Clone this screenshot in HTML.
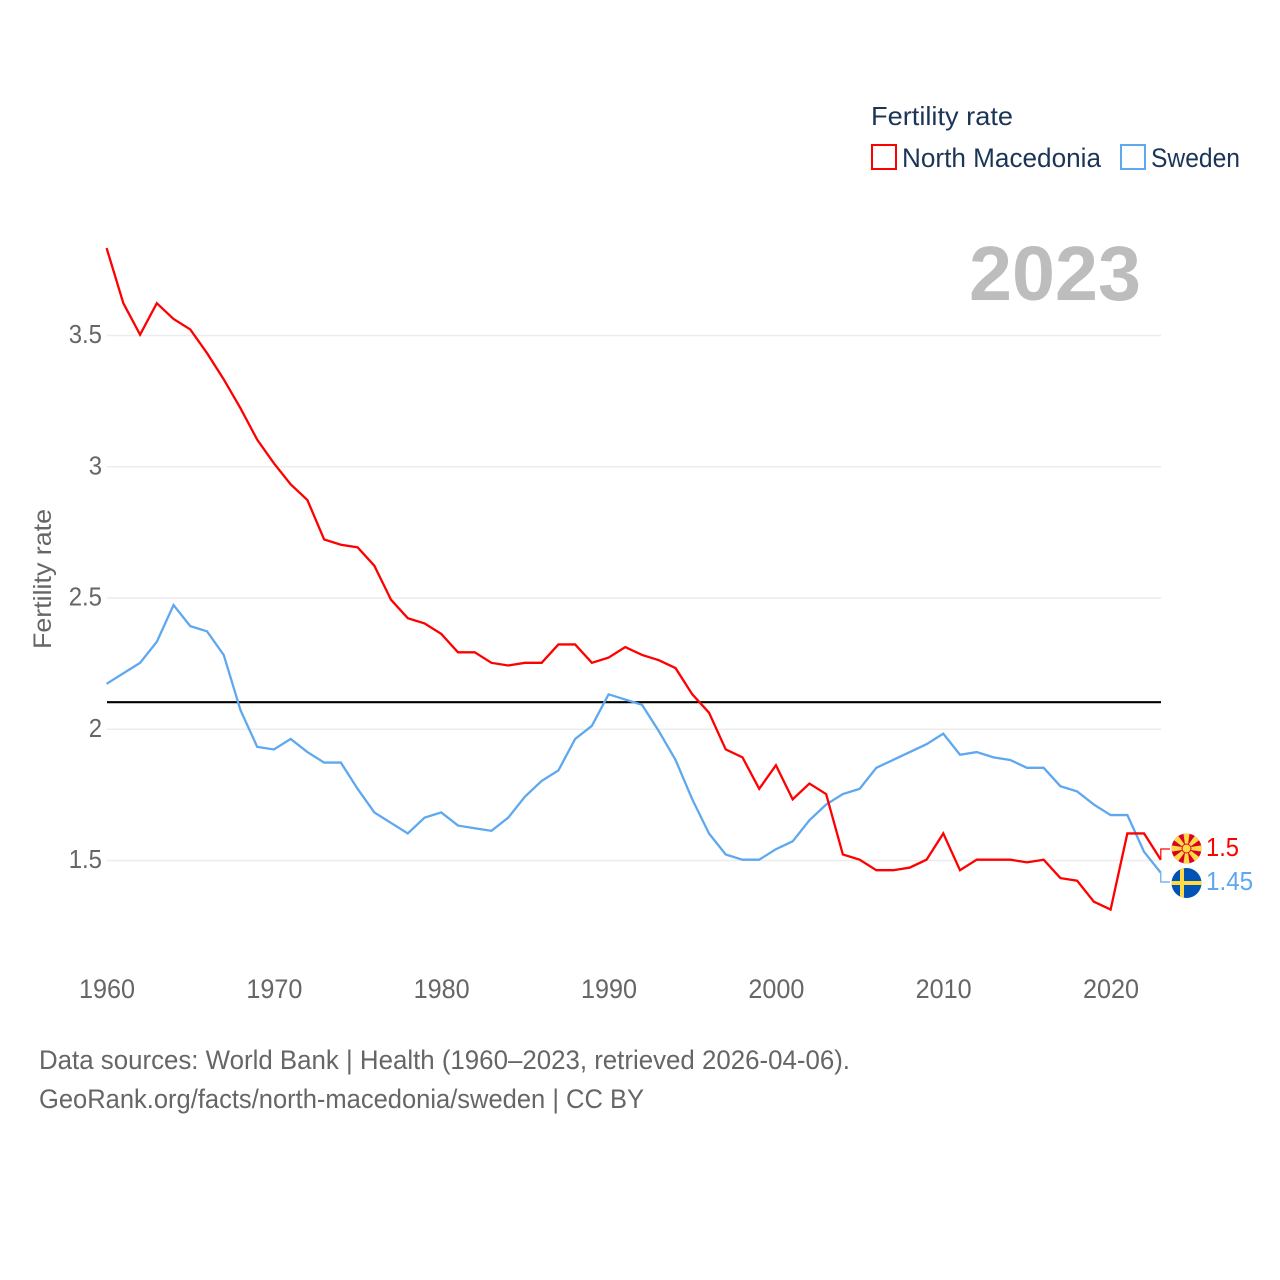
<!DOCTYPE html>
<html lang="en">
<head>
<meta charset="utf-8">
<title>Fertility rate: North Macedonia and Sweden</title>
<style>
html,body{margin:0;padding:0;background:#fff;}
svg{display:block;font-family:"Liberation Sans",sans-serif;}
</style>
</head>
<body>
<svg id="chart" width="1280" height="1280" viewBox="0 0 1280 1280" xmlns="http://www.w3.org/2000/svg">
  <defs>
    <clipPath id="mk-clip"><circle cx="1186.5" cy="848.5" r="15"/></clipPath>
    <clipPath id="se-clip"><circle cx="1186.5" cy="883" r="15"/></clipPath>
  </defs>
  <g id="grid"></g>
  <g id="y-axis"></g>
  <g id="x-axis"></g>
  <text transform="translate(51,579) rotate(-90)" text-anchor="middle" font-size="25" fill="#666" textLength="140" lengthAdjust="spacingAndGlyphs">Fertility rate</text>
  <text x="969" y="300" font-size="77" font-weight="700" fill="#bdbdbd" textLength="172" lengthAdjust="spacingAndGlyphs">2023</text>
  <g id="series"></g>
  <g id="end-markers"></g>

  <g>
    <text x="871" y="125" font-size="26" fill="#1c3557" textLength="142" lengthAdjust="spacingAndGlyphs">Fertility rate</text>
    <rect x="872" y="145" width="24" height="24" fill="none" stroke="#ff0000" stroke-width="2"/>
    <text x="902" y="167" font-size="27" fill="#1c3557" textLength="199" lengthAdjust="spacingAndGlyphs">North Macedonia</text>
    <rect x="1121" y="145" width="24" height="24" fill="none" stroke="#5ea8ef" stroke-width="2"/>
    <text x="1151" y="167" font-size="27" fill="#1c3557" textLength="89" lengthAdjust="spacingAndGlyphs">Sweden</text>
  </g>

  <g>
    <text x="39" y="1069" font-size="27" fill="#666" textLength="811" lengthAdjust="spacingAndGlyphs">Data sources: World Bank | Health (1960–2023, retrieved 2026-04-06).</text>
    <text x="39" y="1108" font-size="27" fill="#666" textLength="605" lengthAdjust="spacingAndGlyphs">GeoRank.org/facts/north-macedonia/sweden | CC BY</text>
  </g>
</svg>
<script>
const years = [1960,1961,1962,1963,1964,1965,1966,1967,1968,1969,1970,1971,1972,1973,1974,1975,1976,1977,1978,1979,1980,1981,1982,1983,1984,1985,1986,1987,1988,1989,1990,1991,1992,1993,1994,1995,1996,1997,1998,1999,2000,2001,2002,2003,2004,2005,2006,2007,2008,2009,2010,2011,2012,2013,2014,2015,2016,2017,2018,2019,2020,2021,2022,2023];
const northMacedonia = [3.83,3.62,3.50,3.62,3.56,3.52,3.43,3.33,3.22,3.10,3.01,2.93,2.87,2.72,2.70,2.69,2.62,2.49,2.42,2.40,2.36,2.29,2.29,2.25,2.24,2.25,2.25,2.32,2.32,2.25,2.27,2.31,2.28,2.26,2.23,2.13,2.06,1.92,1.89,1.77,1.86,1.73,1.79,1.75,1.52,1.50,1.46,1.46,1.47,1.50,1.60,1.46,1.50,1.50,1.50,1.49,1.50,1.43,1.42,1.34,1.31,1.60,1.60,1.50];
const sweden = [2.17,2.21,2.25,2.33,2.47,2.39,2.37,2.28,2.07,1.93,1.92,1.96,1.91,1.87,1.87,1.77,1.68,1.64,1.60,1.66,1.68,1.63,1.62,1.61,1.66,1.74,1.80,1.84,1.96,2.01,2.13,2.11,2.09,1.99,1.88,1.73,1.60,1.52,1.50,1.50,1.54,1.57,1.65,1.71,1.75,1.77,1.85,1.88,1.91,1.94,1.98,1.90,1.91,1.89,1.88,1.85,1.85,1.78,1.76,1.71,1.67,1.67,1.53,1.45];
const yTicks = [1.5,2,2.5,3,3.5];
const yTickLabels = ["1.5","2","2.5","3","3.5"];
const xTicks = [1960,1970,1980,1990,2000,2010,2020];
const xTickLabels = ["1960","1970","1980","1990","2000","2010","2020"];
const referenceLevel = [2.1];
const endLabelMk = "1.5";
const endLabelSe = "1.45";

const NS = "http://www.w3.org/2000/svg";
const xScale = function (year) { return 106.6 + (year - 1960) * (1160.8 - 106.6) / 63; };
const yScale = function (v) { return 860.5 - (v - 1.5) * 262.5; };
const SERIES_SHIFT = -0.8;
const make = function (tag, attrs, parent) {
  const el = document.createElementNS(NS, tag);
  Object.keys(attrs).forEach(function (k) { el.setAttribute(k, attrs[k]); });
  parent.appendChild(el);
  return el;
};
const condense = function (el, factor) {
  const w = el.getComputedTextLength();
  el.setAttribute("textLength", (w * factor).toFixed(2));
  el.setAttribute("lengthAdjust", "spacingAndGlyphs");
};
const pathFor = function (vals) {
  return vals.map(function (v, i) {
    return (i ? "L" : "M") + xScale(years[i]).toFixed(2) + " " + (yScale(v) + SERIES_SHIFT).toFixed(2);
  }).join(" ");
};

const grid = document.getElementById("grid");
const yAxis = document.getElementById("y-axis");
const xAxis = document.getElementById("x-axis");
const series = document.getElementById("series");
const markers = document.getElementById("end-markers");

yTicks.forEach(function (t, i) {
  const line = make("line", {x1: 107, x2: 1161, y1: yScale(t), y2: yScale(t), stroke: "#ececec", "stroke-width": 1.6}, grid);
  
  
  const label = make("text", {x: 102, y: yScale(t) + 7.5, "text-anchor": "end", "font-size": 26, fill: "#666"}, yAxis);
  label.textContent = yTickLabels[i];
  condense(label, 0.92);
  
  
});

xTicks.forEach(function (t, i) {
  const label = make("text", {x: xScale(t) + 0.4, y: 998, "text-anchor": "middle", "font-size": 26.5, fill: "#666"}, xAxis);
  label.textContent = xTickLabels[i];
  condense(label, 0.95);
  
  
});

const refLine = make("line", {x1: 107, x2: 1161, y1: yScale(referenceLevel[0]) + SERIES_SHIFT, y2: yScale(referenceLevel[0]) + SERIES_SHIFT, stroke: "#000", "stroke-width": 2.2}, series);



const seLine = make("path", {d: pathFor(sweden), fill: "none", stroke: "#5ea8ef", "stroke-width": 2.3, "stroke-linejoin": "miter"}, series);



const mkLine = make("path", {d: pathFor(northMacedonia), fill: "none", stroke: "#ff0000", "stroke-width": 2.3, "stroke-linejoin": "miter"}, series);



/* End-of-line connectors */
const lastX = xScale(years[years.length - 1]);
const mkEnd = yScale(northMacedonia[northMacedonia.length - 1]) + SERIES_SHIFT;
const seEnd = yScale(sweden[sweden.length - 1]) + SERIES_SHIFT;
const mkConn = make("path", {d: "M" + lastX + " " + mkEnd + " V849 H1170", fill: "none", stroke: "#ff0000", "stroke-width": 1.2}, markers);


const seConn = make("path", {d: "M" + lastX + " " + seEnd + " V882 H1170", fill: "none", stroke: "#5ea8ef", "stroke-width": 1.2}, markers);



/* North Macedonia flag */
const mkFlag = make("g", {"clip-path": "url(#mk-clip)"}, markers);


make("rect", {x: 1171, y: 833, width: 31, height: 31, fill: "#d80027"}, mkFlag);
[0, 45, 90, 135, 180, 225, 270, 315].forEach(function (deg) {
  make("polygon", {points: "1185.6,848.5 1187.4,848.5 1189.8,832 1183.2,832", fill: "#ffda44", transform: "rotate(" + deg + " 1186.5 848.5)"}, mkFlag);
});
make("circle", {cx: 1186.5, cy: 848.5, r: 5, fill: "#d80027"}, mkFlag);
make("circle", {cx: 1186.5, cy: 848.5, r: 4, fill: "#ffda44"}, mkFlag);

/* Sweden flag */
const seFlag = make("g", {"clip-path": "url(#se-clip)"}, markers);


make("rect", {x: 1171, y: 867, width: 31, height: 32, fill: "#0052b4"}, seFlag);
make("rect", {x: 1171, y: 881, width: 31, height: 4, fill: "#ffda44"}, seFlag);
make("rect", {x: 1180, y: 867, width: 4, height: 32, fill: "#ffda44"}, seFlag);

const mkValue = make("text", {x: 1206, y: 856, "font-size": 25.5, fill: "#ff0000"}, markers);
mkValue.textContent = endLabelMk;
condense(mkValue, 0.93);


const seValue = make("text", {x: 1206, y: 890, "font-size": 25.5, fill: "#5ea8ef"}, markers);
seValue.textContent = endLabelSe;
condense(seValue, 0.95);


</script>
</body>
</html>
